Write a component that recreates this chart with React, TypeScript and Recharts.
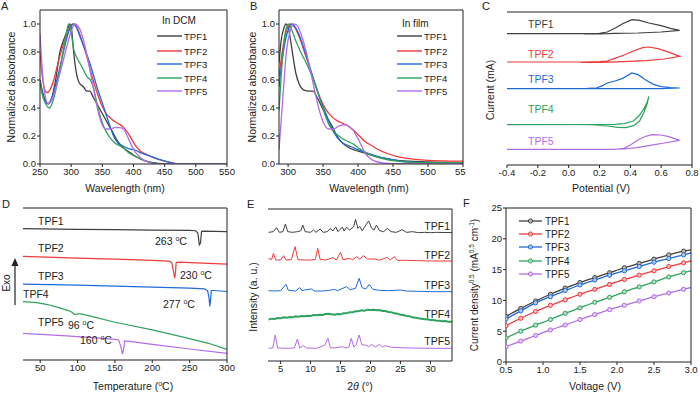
import { LineChart, Line, XAxis, YAxis } from 'recharts'

const FONT = '"Liberation Sans", Arial, Helvetica, sans-serif'
const INK = '#222222'
const names = ['TPF1', 'TPF2', 'TPF3', 'TPF4', 'TPF5']
const colors = ['#404040', '#f03a3a', '#1f6ad9', '#2fa35e', '#b36ce8']

// A: absorption in DCM (nm, normalized)
const dcm1 = [[250,0.6],[255,0.5],[260,0.44],[263,0.43],[268,0.46],[275,0.6],[282,0.8],[290,0.91],[295,0.97],[298,1.0],[301,0.95],[304,0.8],[308,0.66],[313,0.58],[320,0.55],[325,0.52],[330,0.52],[335,0.48],[345,0.4],[355,0.32],[365,0.24],[375,0.16],[385,0.11],[395,0.08],[405,0.05],[420,0.02],[440,0.005],[460,0],[550,0]]
const dcm2 = [[250,0.8],[253,0.65],[257,0.54],[261,0.51],[266,0.53],[272,0.6],[280,0.74],[288,0.86],[295,0.94],[300,0.99],[305,1.0],[310,0.97],[318,0.87],[325,0.77],[332,0.65],[340,0.53],[348,0.43],[356,0.36],[365,0.32],[375,0.29],[382,0.27],[390,0.23],[398,0.17],[405,0.12],[412,0.09],[420,0.07],[435,0.04],[450,0.02],[465,0.005],[475,0],[550,0]]
const dcm3 = [[250,0.6],[254,0.5],[258,0.45],[263,0.43],[268,0.46],[276,0.58],[285,0.75],[293,0.9],[299,0.98],[303,1.0],[308,0.98],[315,0.9],[322,0.82],[330,0.72],[338,0.6],[345,0.5],[352,0.41],[360,0.3],[368,0.2],[375,0.15],[382,0.13],[392,0.11],[402,0.1],[412,0.08],[425,0.06],[440,0.035],[455,0.015],[465,0.005],[478,0],[550,0]]
const dcm4 = [[250,0.58],[254,0.49],[259,0.43],[265,0.4],[270,0.44],[277,0.56],[285,0.75],[291,0.9],[296,1.0],[300,0.94],[304,0.82],[308,0.77],[314,0.72],[320,0.67],[326,0.62],[331,0.6],[336,0.54],[342,0.42],[348,0.32],[355,0.24],[362,0.19],[370,0.15],[378,0.13],[385,0.11],[392,0.08],[400,0.06],[410,0.04],[420,0.02],[435,0.005],[445,0],[550,0]]
const dcm5 = [[250,0.93],[252,0.78],[255,0.6],[259,0.47],[263,0.43],[268,0.45],[276,0.55],[285,0.7],[293,0.84],[300,0.95],[306,1.0],[312,0.98],[320,0.88],[328,0.72],[335,0.56],[342,0.4],[348,0.3],[355,0.25],[362,0.25],[370,0.26],[378,0.26],[384,0.25],[390,0.2],[396,0.14],[402,0.09],[410,0.05],[420,0.02],[430,0.005],[440,0],[550,0]]

// B: absorption in film
const film1 = [[287,0.72],[290,0.88],[294,0.97],[297,1.0],[300,0.98],[303,0.9],[307,0.77],[311,0.65],[316,0.57],[322,0.53],[330,0.52],[336,0.52],[341,0.48],[348,0.41],[356,0.33],[364,0.26],[371,0.19],[378,0.15],[386,0.12],[395,0.1],[405,0.085],[418,0.065],[432,0.045],[450,0.03],[475,0.02],[500,0.015],[550,0.01]]
const film2 = [[287,0.62],[291,0.78],[296,0.92],[300,0.98],[304,1.0],[309,0.98],[315,0.92],[322,0.82],[330,0.7],[338,0.58],[346,0.47],[354,0.39],[362,0.34],[370,0.31],[378,0.29],[386,0.27],[394,0.24],[402,0.2],[410,0.16],[420,0.13],[430,0.1],[442,0.075],[455,0.055],[470,0.04],[490,0.03],[520,0.022],[550,0.02]]
const film3 = [[287,0.55],[291,0.72],[296,0.88],[301,0.97],[305,1.0],[310,0.98],[316,0.92],[323,0.82],[330,0.71],[338,0.58],[346,0.46],[354,0.36],[362,0.26],[370,0.19],[378,0.15],[387,0.13],[396,0.11],[406,0.09],[418,0.07],[430,0.05],[445,0.035],[460,0.02],[480,0.012],[510,0.01],[550,0.01]]
const film4 = [[287,0.38],[290,0.62],[294,0.87],[298,0.98],[301,1.0],[305,0.96],[311,0.88],[318,0.8],[326,0.72],[334,0.63],[342,0.52],[349,0.41],[355,0.32],[362,0.25],[370,0.21],[378,0.18],[386,0.16],[394,0.14],[402,0.11],[412,0.08],[424,0.055],[438,0.035],[455,0.02],[475,0.012],[510,0.01],[550,0.01]]
const film5 = [[287,0.1],[290,0.3],[294,0.58],[298,0.82],[303,0.95],[308,1.0],[313,0.99],[319,0.92],[326,0.8],[333,0.64],[340,0.48],[346,0.36],[352,0.28],[358,0.25],[365,0.25],[372,0.27],[380,0.28],[387,0.27],[393,0.24],[399,0.19],[405,0.13],[410,0.08],[416,0.045],[424,0.02],[435,0.008],[450,0.003],[550,0]]

// C: cyclic voltammograms (V, offset current)
const cv1 = [[-0.4,3.94],[0.1,3.94],[0.2,3.95],[0.25,3.99],[0.3,4.1],[0.35,4.24],[0.41,4.36],[0.46,4.34],[0.52,4.26],[0.6,4.18],[0.66,4.1],[0.72,4.04],[0.6,3.99],[0.45,3.96],[0.3,3.95],[0.2,3.93],[0.1,3.93]]
const cv2 = [[-0.4,3.09],[0.1,3.09],[0.2,3.1],[0.25,3.12],[0.3,3.2],[0.36,3.3],[0.42,3.42],[0.48,3.52],[0.52,3.54],[0.58,3.49],[0.64,3.4],[0.72,3.26],[0.62,3.18],[0.5,3.13],[0.35,3.1],[0.2,3.08],[0.08,3.08]]
const cv3 = [[-0.4,2.29],[0.12,2.29],[0.18,2.31],[0.22,2.38],[0.25,2.46],[0.3,2.52],[0.35,2.6],[0.41,2.76],[0.45,2.71],[0.5,2.55],[0.55,2.42],[0.6,2.35],[0.66,2.32],[0.72,2.31],[0.6,2.29],[0.4,2.29],[0.2,2.29],[0.12,2.3]]
const cv4 = [[-0.4,1.21],[0.3,1.22],[0.36,1.24],[0.42,1.32],[0.46,1.5],[0.49,1.7],[0.51,1.9],[0.52,2.06],[0.51,1.85],[0.49,1.6],[0.46,1.32],[0.42,1.18],[0.37,1.12],[0.32,1.13],[0.25,1.17],[0.15,1.2],[0.06,1.21]]
const cv5 = [[-0.4,0.47],[0.3,0.47],[0.36,0.5],[0.4,0.6],[0.45,0.75],[0.5,0.86],[0.54,0.91],[0.6,0.9],[0.65,0.85],[0.72,0.74],[0.62,0.66],[0.52,0.58],[0.44,0.52],[0.36,0.48],[0.2,0.47],[0.05,0.47]]

// D: DSC traces (temperature, offset heat flow)
const dsc1 = [[27,3.93],[100,3.91],[150,3.9],[200,3.89],[250,3.88],[258,3.87],[261,3.8],[263,3.45],[264.5,3.5],[266,3.85],[268,3.86],[300,3.84]]
const dsc2 = [[27,3.1],[100,3.05],[150,3.02],[200,2.98],[222,2.96],[226,2.92],[228,2.7],[230,2.45],[231,2.6],[232,2.92],[235,2.93],[300,2.87]]
const dsc3 = [[27,2.27],[100,2.24],[150,2.21],[200,2.18],[250,2.15],[270,2.13],[274,2.08],[276,1.85],[277,1.6],[278,1.8],[279,2.08],[282,2.08],[300,2.05]]
const dsc4 = [[27,1.75],[45,1.72],[60,1.66],[75,1.57],[88,1.48],[93,1.42],[96,1.36],[100,1.38],[105,1.38],[120,1.3],[150,1.13],[200,0.9],[250,0.64],[275,0.5],[300,0.32]]
const dsc5 = [[27,0.8],[80,0.73],[120,0.67],[150,0.62],[155,0.6],[158,0.4],[160,0.18],[161.5,0.3],[163,0.57],[170,0.56],[200,0.47],[250,0.33],[300,0.2]]

// E: XRD patterns (2theta, offset intensity)
const xrd1 = [[3,3.88],[3.8,3.9],[4.3,4.02],[4.8,3.88],[5.4,3.9],[5.8,4.13],[6.2,3.9],[7,3.88],[7.8,3.9],[8.4,3.93],[8.7,4.1],[9.1,3.9],[10,3.88],[10.5,3.95],[10.9,3.88],[11.6,3.98],[12.1,3.88],[12.8,3.9],[13.3,4.0],[13.7,3.92],[14.2,4.04],[14.6,3.9],[15.3,4.04],[15.6,3.92],[16,4.03],[16.5,3.95],[17.2,4.05],[17.5,4.27],[17.9,4.0],[18.2,4.06],[18.6,3.93],[19.3,4.12],[19.7,4.22],[20.2,4.0],[20.6,3.95],[21,4.1],[21.5,3.93],[22.2,3.9],[22.8,4.0],[23.4,3.9],[24.3,3.88],[25.3,3.96],[26,3.88],[27,3.9],[28,3.87],[29,3.88],[30,3.87],[31,3.88],[33.6,3.87]]
const xrd2 = [[3,3.1],[3.5,3.06],[3.8,3.25],[4.2,3.05],[5,3.05],[5.5,3.18],[5.9,3.05],[6.8,3.06],[7.4,3.45],[7.9,3.06],[9,3.05],[10,3.05],[10.8,3.07],[11.2,3.4],[11.6,3.07],[12.5,3.05],[13.8,3.12],[14.3,3.05],[15,3.28],[15.4,3.06],[16.5,3.1],[17,3.06],[17.7,3.15],[18.2,3.08],[18.8,3.18],[19.5,3.08],[20.7,3.08],[21.5,3.04],[22.8,3.13],[23.3,3.05],[24,3.15],[24.5,3.04],[26,3.04],[28,3.03],[30,3.02],[33.6,3.02]]
const xrd3 = [[3,2.13],[4,2.12],[5,2.13],[5.9,2.32],[6.3,2.14],[7.5,2.12],[8.2,2.22],[8.6,2.13],[9,2.15],[10.2,2.18],[10.6,2.12],[12,2.12],[13.2,2.14],[14,2.17],[14.5,2.13],[16,2.25],[16.6,2.16],[17.5,2.2],[18.1,2.5],[18.6,2.22],[19.2,2.18],[19.8,2.32],[20.4,2.17],[21.5,2.14],[23,2.13],[25,2.15],[26,2.12],[28,2.11],[30,2.1],[33.6,2.1]]
const xrd4 = [[3,1.26],[3.5,1.29],[4,1.28],[4.5,1.31],[5,1.3],[5.5,1.33],[6,1.32],[6.5,1.34],[7,1.33],[7.5,1.36],[8,1.35],[8.5,1.37],[9,1.36],[9.5,1.38],[10,1.37],[10.5,1.4],[11,1.39],[11.5,1.41],[12,1.4],[12.5,1.43],[13,1.44],[13.5,1.42],[14,1.41],[14.5,1.43],[15,1.42],[15.5,1.45],[16,1.45],[16.5,1.48],[17,1.48],[17.5,1.51],[18,1.51],[18.5,1.54],[19,1.53],[19.5,1.56],[20,1.55],[20.5,1.56],[21,1.54],[21.5,1.55],[22,1.52],[22.5,1.52],[23,1.49],[23.5,1.48],[24,1.45],[24.5,1.44],[25,1.41],[25.5,1.4],[26,1.37],[26.5,1.36],[27,1.33],[27.5,1.32],[28,1.3],[28.5,1.29],[29,1.27],[29.5,1.27],[30,1.25],[30.5,1.25],[31,1.23],[31.5,1.23],[32,1.21],[32.5,1.22],[33,1.2],[33.6,1.2]]
const xrd5 = [[3,0.4],[3.7,0.41],[4.1,0.8],[4.5,0.41],[6,0.4],[7.3,0.41],[7.8,0.68],[8.2,0.41],[8.8,0.48],[9.3,0.41],[11,0.4],[12.4,0.5],[12.9,0.7],[13.3,0.42],[14,0.41],[15.3,0.45],[15.8,0.41],[16.4,0.44],[16.8,0.7],[17.2,0.44],[17.6,0.5],[18.1,0.8],[18.6,0.5],[19.2,0.5],[19.7,0.45],[20.2,0.52],[20.8,0.44],[21.5,0.52],[22,0.44],[22.5,0.48],[23.5,0.43],[25,0.42],[27,0.41],[30,0.4],[33.6,0.4]]

// F: SCLC current density^0.5 vs voltage
const fVolt = [0.5, 0.7, 0.9, 1.1, 1.3, 1.5, 1.7, 1.9, 2.1, 2.3, 2.5, 2.7, 2.9, 3.0]
const jTPF1 = [7.4, 8.7, 9.9, 11.0, 12.0, 12.9, 13.7, 14.5, 15.3, 16.0, 16.7, 17.4, 18.0, 18.2]
const jTPF2 = [5.9, 7.1, 8.2, 9.2, 10.1, 11.0, 11.8, 12.6, 13.4, 14.1, 14.8, 15.5, 16.1, 16.4]
const jTPF3 = [7.0, 8.3, 9.6, 10.6, 11.6, 12.5, 13.3, 14.1, 14.8, 15.5, 16.2, 16.8, 17.4, 17.7]
const jTPF4 = [3.9, 5.0, 6.0, 6.9, 7.9, 8.8, 9.7, 10.5, 11.4, 12.2, 13.0, 13.8, 14.5, 14.8]
const jTPF5 = [2.5, 3.4, 4.3, 5.2, 6.0, 6.9, 7.7, 8.5, 9.2, 9.9, 10.6, 11.2, 11.8, 12.1]

type Pt = { x: number; y: number }
type Series = { name: string; color: string; data: Pt[] }

const toXY = (pts: number[][]): Pt[] => pts.map(([x, y]) => ({ x, y }))
const makeSeries = (sets: number[][][]): Series[] =>
  sets.map((s, i) => ({ name: names[i], color: colors[i], data: toXY(s) }))

const seriesA = makeSeries([dcm1, dcm2, dcm3, dcm4, dcm5])
const seriesB = makeSeries([film1, film2, film3, film4, film5])
const seriesC = makeSeries([cv1, cv2, cv3, cv4, cv5])
const seriesD = makeSeries([dsc1, dsc2, dsc3, dsc4, dsc5])
const seriesE = makeSeries([xrd1, xrd2, xrd3, xrd4, xrd5])
const seriesF: Series[] = [jTPF1, jTPF2, jTPF3, jTPF4, jTPF5].map((ys, i) => ({
  name: names[i],
  color: colors[i],
  data: fVolt.map((x, k) => ({ x, y: ys[k] })),
}))

interface PanelProps {
  box: number[]
  plot: number[]
  xDomain: [number, number]
  yDomain: [number, number]
  xTicks: number[]
  xMinor?: number[]
  yTicks?: number[]
  yMinor?: number[]
  xFmt?: (v: number) => string
  yFmt?: (v: number) => string
  series: Series[]
  curve?: 'monotone' | 'linear'
  lineWidth?: number[]
  markers?: boolean
}

const tickStyle = { fontSize: 9.5, fill: INK, fontFamily: FONT }

function Marker({ cx, cy, color }: { cx: number; cy: number; color: string }) {
  return (
    <g>
      <circle cx={cx} cy={cy} r={2.1} fill="#ffffff" />
      <circle cx={cx} cy={cy} r={2.1} fill={color} fillOpacity={0.35} stroke={color} strokeWidth={1} />
    </g>
  )
}

function Panel(p: PanelProps) {
  const [bl, bt, bw, bh] = p.box
  const [px, py, pw, ph] = p.plot
  // axes get a 1px band each (a zero-size axis is not drawn), so take it out of the margin
  const margin = {
    left: px - bl - (p.yTicks ? 1 : 0) - (p.yMinor ? 1 : 0),
    top: py - bt - 1,
    right: bl + bw - px - pw - 1,
    bottom: bt + bh - py - ph - 1 - (p.xMinor ? 1 : 0),
  }

  const markerDot = (color: string) => (props: any) => {
    const { cx, cy, payload, index } = props
    if (payload.x > 2.95) return <g key={index} />
    return <g key={index}><Marker cx={cx} cy={cy} color={color} /></g>
  }

  return (
    <div style={{ position: 'absolute', left: bl, top: bt }}>
      <LineChart width={bw} height={bh} margin={margin}>
        <XAxis type="number" dataKey="x" domain={p.xDomain} ticks={p.xTicks} interval={0} allowDataOverflow
          height={1} tickSize={3} tickMargin={1} tick={tickStyle} tickFormatter={p.xFmt} stroke={INK} />
        {p.xMinor && (
          <XAxis xAxisId="minor" type="number" dataKey="x" domain={p.xDomain} ticks={p.xMinor} interval={0}
            allowDataOverflow height={1} tickSize={1.5} tick={false} axisLine={false} stroke={INK} />
        )}
        <XAxis xAxisId="top" orientation="top" type="number" dataKey="x" domain={p.xDomain} allowDataOverflow
          height={1} tick={false} tickLine={false} stroke={INK} />
        {p.yTicks ? (
          <YAxis type="number" domain={p.yDomain} ticks={p.yTicks} interval={0} allowDataOverflow width={1}
            tickSize={3} tickMargin={1} tick={tickStyle} tickFormatter={p.yFmt} stroke={INK} />
        ) : (
          <YAxis type="number" domain={p.yDomain} allowDataOverflow hide />
        )}
        {p.yMinor && (
          <YAxis yAxisId="minor" type="number" domain={p.yDomain} ticks={p.yMinor} interval={0}
            allowDataOverflow width={1} tickSize={1.5} tick={false} axisLine={false} stroke={INK} />
        )}
        {!p.yTicks && (
          <YAxis yAxisId="left" type="number" domain={p.yDomain} allowDataOverflow width={1}
            tick={false} tickLine={false} stroke={INK} />
        )}
        <YAxis yAxisId="right" orientation="right" type="number" domain={p.yDomain} allowDataOverflow
          width={1} tick={false} tickLine={false} stroke={INK} />
        {p.series.map((s, i) => (
          <Line
            key={s.name}
            data={s.data}
            dataKey="y"
            type={p.curve ?? 'linear'}
            stroke={s.color}
            strokeWidth={p.lineWidth ? p.lineWidth[i] : 1.3}
            dot={p.markers ? markerDot(s.color) : false}
            activeDot={false}
            isAnimationActive={false}
          />
        ))}
      </LineChart>
    </div>
  )
}

const f1 = (v: number) => v.toFixed(1)
const f0 = (v: number) => String(v)

function SpecLegend({ x, y, title }: { x: number; y: number; title: string }) {
  const rows = [36, 51, 64, 78, 91]
  return (
    <g>
      <text x={x + 5} y={y} fontSize={10}>{title}</text>
      {names.map((n, i) => (
        <g key={n}>
          <line x1={x} x2={x + 25} y1={rows[i]} y2={rows[i]} stroke={colors[i]} strokeWidth={1.4} />
          <text x={x + 27} y={rows[i] + 3.5} fontSize={9.5}>{n}</text>
        </g>
      ))}
    </g>
  )
}

function Deg({ x, y, value }: { x: number; y: number; value: string }) {
  return (
    <text x={x} y={y} fontSize={10.5}>
      {value} <tspan dy={-4} fontSize={7}>o</tspan><tspan dy={4}>C</tspan>
    </text>
  )
}

export default function App() {
  return (
    <div style={{ position: 'absolute', left: 0, top: 0, width: 700, height: 394, background: '#ffffff', overflow: 'hidden' }}>
      <Panel box={[0, 0, 237, 197]} plot={[40, 10, 187, 154]} xDomain={[250, 550]} yDomain={[0, 1.1]}
        xTicks={[250, 300, 350, 400, 450, 500, 550]} xMinor={[275, 325, 375, 425, 475, 525]}
        yTicks={[0, 0.2, 0.4, 0.6, 0.8, 1.0]} yMinor={[0.1, 0.3, 0.5, 0.7, 0.9]} yFmt={f1}
        series={seriesA} curve="monotone" />
      <Panel box={[237, 0, 229, 197]} plot={[279, 10, 184, 154]} xDomain={[287, 550]} yDomain={[0, 1.1]}
        xTicks={[300, 350, 400, 450, 500, 550]} xMinor={[325, 375, 425, 475, 525]}
        yTicks={[0, 0.2, 0.4, 0.6, 0.8, 1.0]} yMinor={[0.1, 0.3, 0.5, 0.7, 0.9]} yFmt={f1}
        series={seriesB} curve="monotone" />
      <Panel box={[470, 0, 230, 197]} plot={[506, 12, 186, 153]} xDomain={[-0.4, 0.8]} yDomain={[0, 4.59]}
        xTicks={[-0.4, -0.2, 0, 0.2, 0.4, 0.6, 0.8]} xMinor={[-0.3, -0.1, 0.1, 0.3, 0.5, 0.7]} xFmt={f1}
        series={seriesC} lineWidth={[1.2, 1.2, 1.2, 1.2, 1.2]} />
      <Panel box={[0, 197, 237, 197]} plot={[22, 208, 205, 152]} xDomain={[27, 300]} yDomain={[0, 4.55]}
        xTicks={[50, 100, 150, 200, 250, 300]} xMinor={[75, 125, 175, 225, 275]}
        series={seriesD} lineWidth={[1.2, 1.2, 1.2, 1.2, 1.2]} />
      <Panel box={[237, 197, 229, 197]} plot={[267, 209, 185, 152]} xDomain={[2.9, 33.6]} yDomain={[0.02, 4.58]}
        xTicks={[5, 10, 15, 20, 25, 30]} xMinor={[7.5, 12.5, 17.5, 22.5, 27.5, 32.5]}
        series={seriesE} lineWidth={[1, 1, 1, 2, 1]} />
      <Panel box={[466, 197, 234, 197]} plot={[506, 208, 185, 154]} xDomain={[0.5, 3.0]} yDomain={[0, 25]}
        xTicks={[0.5, 1.0, 1.5, 2.0, 2.5, 3.0]} xMinor={[0.75, 1.25, 1.75, 2.25, 2.75]} xFmt={f1}
        yTicks={[0, 5, 10, 15, 20, 25]} yMinor={[2.5, 7.5, 12.5, 17.5, 22.5]} yFmt={f0}
        series={seriesF} curve="monotone" markers />

      <svg width={700} height={394} style={{ position: 'absolute', left: 0, top: 0, pointerEvents: 'none' }}
        fontFamily={FONT} fill={INK}>
        {/* panel letters */}
        <text x={1} y={10} fontSize={11}>A</text>
        <text x={250} y={10} fontSize={11}>B</text>
        <text x={482} y={10} fontSize={11}>C</text>
        <text x={2} y={208} fontSize={11}>D</text>
        <text x={247} y={208} fontSize={11}>E</text>
        <text x={463} y={207} fontSize={11}>F</text>

        {/* A */}
        <text transform="translate(15,87) rotate(-90)" textAnchor="middle" fontSize={10.5}>Normalized absorbance</text>
        <text x={125} y={192} textAnchor="middle" fontSize={10.5}>Wavelength (nm)</text>
        <SpecLegend x={157} y={24} title="In DCM" />

        {/* B */}
        <text transform="translate(256,87) rotate(-90)" textAnchor="middle" fontSize={10.5}>Normalized absorbance</text>
        <text x={369} y={192} textAnchor="middle" fontSize={10.5}>Wavelength (nm)</text>
        <SpecLegend x={397} y={27} title="In film" />

        {/* C */}
        <text transform="translate(494,90) rotate(-90)" textAnchor="middle" fontSize={10.5}>Current (mA)</text>
        <text x={601} y={192} textAnchor="middle" fontSize={10.5}>Potential (V)</text>
        {[28, 58, 83, 113, 145].map((y, i) => (
          <text key={i} x={528} y={y} fontSize={10.5} fill={colors[i]}>{names[i]}</text>
        ))}

        {/* D */}
        <text transform="translate(10,283) rotate(-90)" textAnchor="middle" fontSize={10}>Exo</text>
        <line x1={15} x2={15} y1={305} y2={264} stroke={INK} strokeWidth={1.2} />
        <path d="M11.5,266 L15,258 L18.5,266 Z" fill={INK} />
        <text x={133} y={390} textAnchor="middle" fontSize={10.5}>
          Temperature (<tspan dy={-4} fontSize={7}>o</tspan><tspan dy={4}>C)</tspan>
        </text>
        <text x={38} y={225} fontSize={10.5}>TPF1</text>
        <text x={38} y={252} fontSize={10.5}>TPF2</text>
        <text x={38} y={280} fontSize={10.5}>TPF3</text>
        <text x={23} y={298} fontSize={10.5}>TPF4</text>
        <text x={38} y={326} fontSize={10.5}>TPF5</text>
        <Deg x={155} y={245} value="263" />
        <Deg x={180} y={279} value="230" />
        <Deg x={163} y={308} value="277" />
        <Deg x={68} y={329} value="96" />
        <Deg x={80} y={344} value="160" />

        {/* E */}
        <text transform="translate(257,297) rotate(-90)" textAnchor="middle" fontSize={10.5}>Intensity (a. u.)</text>
        <text x={360} y={390} textAnchor="middle" fontSize={10.5}>
          2<tspan fontStyle="italic">θ</tspan> (°)
        </text>
        {[230, 259, 289, 318, 345].map((y, i) => (
          <text key={i} x={450} y={y} textAnchor="end" fontSize={10.5}>{names[i]}</text>
        ))}

        {/* F */}
        <text transform="translate(478,285) rotate(-90)" textAnchor="middle" fontSize={10}>
          Current density<tspan dy={-4} fontSize={6.5}>0.5</tspan><tspan dy={4}> (mA</tspan>
          <tspan dy={-4} fontSize={6.5}>0.5</tspan><tspan dy={4}> cm</tspan>
          <tspan dy={-4} fontSize={6.5}>-1</tspan><tspan dy={4}>)</tspan>
        </text>
        <text x={595} y={390} textAnchor="middle" fontSize={10.5}>Voltage (V)</text>
        {[221, 234, 247, 261, 274].map((y, i) => (
          <g key={i}>
            <line x1={519} x2={542} y1={y} y2={y} stroke={colors[i]} strokeWidth={1.3} />
            <Marker cx={530.5} cy={y} color={colors[i]} />
            <text x={545} y={y + 3.5} fontSize={10}>{names[i]}</text>
          </g>
        ))}
      </svg>
    </div>
  )
}
